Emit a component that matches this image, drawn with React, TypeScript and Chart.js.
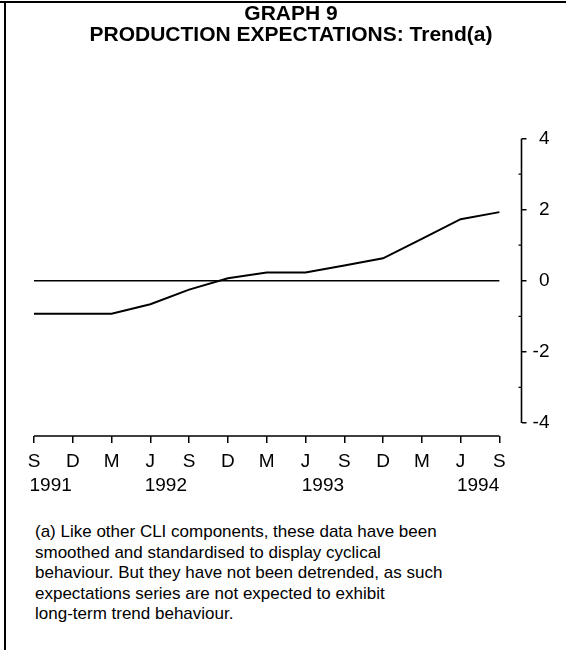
import React, { useEffect, useRef } from "react";
import { Chart, registerables } from "chart.js";

Chart.register(...registerables);

// ---- data ----
const MONTHS = ["S", "D", "M", "J", "S", "D", "M", "J", "S", "D", "M", "J", "S"];
const YEARS = ["1991", "1992", "1993", "1994"];
const YEAR_POS = [0.43, 3.4, 7.45, 11.45];
const TREND = [-0.93, -0.93, -0.93, -0.66, -0.25, 0.07, 0.23, 0.23, 0.43, 0.63, 1.18, 1.73, 1.93];
const ZERO = [0, 0, 0, 0, 0, 0, 0, 0, 0, 0, 0, 0, 0];
const Y_TICKS = [-4, -3, -2, -1, 0, 1, 2, 3, 4];
const TITLE = ["GRAPH 9", "PRODUCTION EXPECTATIONS: Trend(a)"];
const NOTE = [
  "(a) Like other CLI components, these data have been",
  "smoothed and standardised to display cyclical",
  "behaviour. But they have not been detrended, as such",
  "expectations series are not expected to exhibit",
  "long-term trend behaviour.",
];

const FONT = '"Liberation Sans", Arial, Helvetica, sans-serif';

const axesPlugin = {
  id: "axesLines",
  afterDraw(chart: any) {
    const { ctx, chartArea } = chart;
    const x = chart.scales.x;
    const y = chart.scales.y;
    ctx.save();
    ctx.strokeStyle = "#000";
    ctx.lineWidth = 1.6;
    ctx.beginPath();
    ctx.moveTo(x.getPixelForValue(0), chartArea.bottom);
    ctx.lineTo(x.getPixelForValue(MONTHS.length - 1), chartArea.bottom);
    ctx.moveTo(y.left, y.getPixelForValue(Y_TICKS[Y_TICKS.length - 1]));
    ctx.lineTo(y.left, y.getPixelForValue(Y_TICKS[0]));
    ctx.stroke();
    ctx.lineWidth = 1.2;
    ctx.beginPath();
    Y_TICKS.filter((v) => v % 2 !== 0).forEach((v) => {
      const py = y.getPixelForValue(v);
      ctx.moveTo(y.left - 3, py);
      ctx.lineTo(y.left, py);
    });
    ctx.stroke();
    ctx.restore();
  },
};

export default function App() {
  const ref = useRef<HTMLCanvasElement | null>(null);

  useEffect(() => {
    document.body.style.margin = "0";
    if (!ref.current) return;
    Chart.defaults.font.family = FONT;
    Chart.defaults.color = "#000";
    const chart = new Chart(ref.current, {
      type: "line",
      data: {
        datasets: [
          {
            data: TREND.map((v, i) => ({ x: i, y: v })),
            borderColor: "#000",
            borderWidth: 2,
            pointRadius: 0,
            tension: 0,
            fill: false,
          },
          {
            data: ZERO.map((v, i) => ({ x: i, y: v })),
            borderColor: "#000",
            borderWidth: 1.5,
            pointRadius: 0,
            tension: 0,
            fill: false,
          },
        ],
      },
      options: {
        responsive: false,
        animation: false,
        events: [],
        layout: { padding: { left: 34, right: 16.5, top: 138.5, bottom: 17 } },
        plugins: {
          legend: { display: false },
          tooltip: { enabled: false },
          title: { display: false },
        },
        scales: {
          x: {
            type: "linear",
            position: "bottom",
            min: 0,
            max: 12.57,
            weight: 0,
            afterBuildTicks: (s: any) => {
              s.ticks = MONTHS.map((_, i) => ({ value: i }));
            },
            afterFit: (s: any) => {
              s.height = 37;
            },
            ticks: {
              autoSkip: false,
              maxRotation: 0,
              padding: 7,
              font: { size: 19 },
              color: "#000",
              callback: (_v: any, i: number) => MONTHS[i],
            },
            grid: {
              drawOnChartArea: false,
              drawTicks: true,
              tickLength: 7,
              color: "#000",
              lineWidth: 1.5,
            },
            border: { display: false },
          },
          x2: {
            type: "linear",
            position: "bottom",
            min: 0,
            max: 12.57,
            weight: 1,
            afterBuildTicks: (s: any) => {
              s.ticks = YEAR_POS.map((v) => ({ value: v }));
            },
            afterFit: (s: any) => {
              s.height = 30;
            },
            ticks: {
              autoSkip: false,
              maxRotation: 0,
              padding: 1,
              font: { size: 19 },
              color: "#000",
              callback: (_v: any, i: number) => YEARS[i],
            },
            grid: { display: false, drawTicks: false },
            border: { display: false },
          },
          y: {
            type: "linear",
            position: "right",
            min: -4.366,
            max: 4,
            afterBuildTicks: (s: any) => {
              s.ticks = Y_TICKS.map((v) => ({ value: v }));
            },
            afterFit: (s: any) => {
              s.width = 28;
            },
            ticks: {
              autoSkip: false,
              padding: 6,
              crossAlign: "far",
              font: { size: 19 },
              color: "#000",
              callback: (v: any) => (Number(v) % 2 === 0 ? String(v) : ""),
            },
            grid: {
              drawOnChartArea: false,
              drawTicks: true,
              tickLength: 5,
              lineWidth: 1.5,
              color: (c: any) =>
                c.tick && Math.abs(c.tick.value) % 2 === 1 ? "rgba(0,0,0,0)" : "#000",
            },
            border: { display: false },
          },
        },
      },
      plugins: [axesPlugin],
    } as any);
    return () => chart.destroy();
  }, []);

  return (
    <div
      style={{
        position: "relative",
        width: 566,
        height: 650,
        background: "#fff",
        overflow: "hidden",
        fontFamily: FONT,
        color: "#000",
      }}
    >
      <div style={{ position: "absolute", left: 0, top: 1, width: 566, height: 2, background: "#000" }} />
      <div style={{ position: "absolute", left: 4, top: 1, width: 2, height: 649, background: "#000" }} />
      <canvas
        ref={ref}
        width={566}
        height={520}
        style={{ position: "absolute", left: 0, top: 0, width: 566, height: 520 }}
      />
      <div
        style={{
          position: "absolute",
          left: 12,
          top: 2,
          width: 558,
          textAlign: "center",
          fontWeight: "bold",
          fontSize: 21,
          lineHeight: "21px",
          whiteSpace: "nowrap",
        }}
      >
        {TITLE.map((t, i) => (
          <div key={i}>{t}</div>
        ))}
      </div>
      <div
        style={{
          position: "absolute",
          left: 35,
          top: 522.4,
          fontSize: 17,
          lineHeight: "20.5px",
          whiteSpace: "nowrap",
        }}
      >
        {NOTE.map((t, i) => (
          <div key={i}>{t}</div>
        ))}
      </div>
    </div>
  );
}
